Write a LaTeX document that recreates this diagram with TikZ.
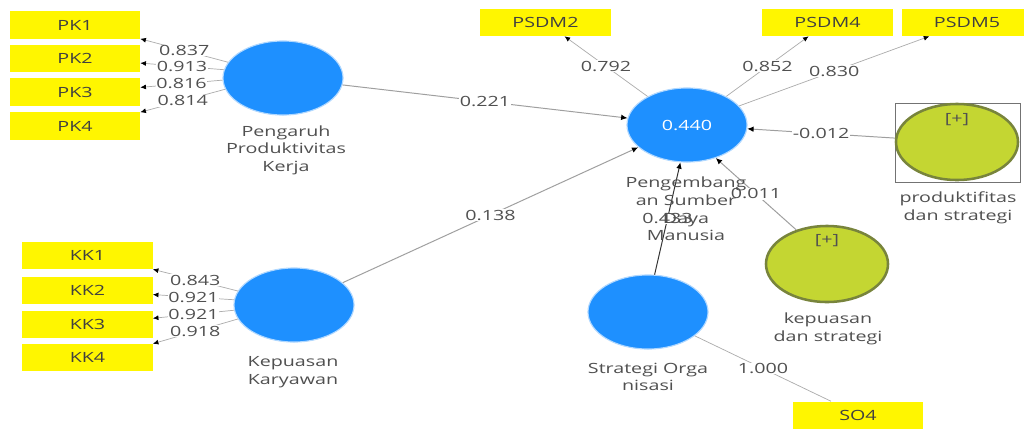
\documentclass[tikz,border=0pt]{standalone}
\usepackage{fontspec}
\setmainfont{Open Sans}[FakeStretch=1.4]
\usetikzlibrary{shapes.geometric,arrows.meta}

\definecolor{plsblue}{RGB}{30,144,255}
\definecolor{plsyellow}{RGB}{255,246,0}
\definecolor{plsgreen}{RGB}{196,214,50}
\definecolor{plsolive}{RGB}{120,132,60}
\definecolor{plstext}{RGB}{80,80,80}

\begin{document}
\begin{tikzpicture}[x=0.025cm,y=-0.025cm,
  font=\fontsize{10}{12.5}\selectfont,
  ind/.style={rectangle,fill=plsyellow,text=black!75,minimum width=3.25cm,minimum height=0.675cm,inner sep=0pt},
  lv/.style={ellipse,fill=plsblue,draw=plsblue!35,line width=0.8pt,minimum width=3cm,minimum height=1.85cm,inner sep=0pt},
  moder/.style={ellipse,fill=plsgreen,draw=plsolive,line width=1.8pt,minimum width=3.05cm,minimum height=1.9cm,inner sep=0pt},
  lvname/.style={text=plstext,align=center},
  coef/.style={fill=white,text=plstext,inner sep=0.5pt},
  load/.style={draw=gray!65,line width=0.5pt,-{Latex[length=4pt,width=3.5pt,color=black]}},
  struct/.style={draw=gray!75,line width=0.7pt,-{Latex[length=4.5pt,width=4pt,color=black]}}]
\path[fill=white] (0,0) rectangle (1024,428);
\useasboundingbox (0,0) rectangle (1024,428);
% indicators
\node[ind] (pk1) at (75,25) {PK1};
\node[ind] (pk2) at (75,58.5) {PK2};
\node[ind] (pk3) at (75,92) {PK3};
\node[ind] (pk4) at (75,126) {PK4};
\node[ind] (kk1) at (87.5,255.5) {KK1};
\node[ind] (kk2) at (87.5,290) {KK2};
\node[ind] (kk3) at (87.5,324) {KK3};
\node[ind] (kk4) at (87.5,357.5) {KK4};
\node[ind] (psdm2) at (545.5,22.5) {PSDM2};
\node[ind] (psdm4) at (827.5,22.5) {PSDM4};
\node[ind] (psdm5) at (967,22.5) {PSDM5};
\node[ind] (so4) at (858,415) {SO4};
% latent variables
\node[lv] (ppk) at (283,78) {};
\node[lv] (kk) at (294,305) {};
\node[lv,text=white] (psdm) at (687,125) {0.440};
\node[lv] (so) at (648,312) {};
\draw[black!55,line width=0.5pt] (895,103) rectangle (1020,182);
\node[moder] (pds) at (957,142) {};
\node[moder] (kds) at (827,264) {};
\node[text=plstext] (pdsplus) at (957,120) {[+]};
\node[text=plstext] (kdsplus) at (827,241) {[+]};
% outer loadings
\draw[load] (ppk.164) -- node[coef] {0.837} (pk1.south east);
\draw[load] (ppk.172) -- node[coef] {0.913} (pk2.-4);
\draw[load] (ppk.182) -- node[coef] {0.816} (pk3.4);
\draw[load] (ppk.191) -- node[coef] {0.814} (pk4.north east);
\draw[load] (kk.166) -- node[coef] {0.843} (kk1.south east);
\draw[load] (kk.175) -- node[coef] {0.921} (kk2.-4);
\draw[load] (kk.185) -- node[coef] {0.921} (kk3.5);
\draw[load] (kk.194) -- node[coef] {0.918} (kk4.north east);
\draw[load] (psdm) -- node[coef] {0.792} (psdm2);
\draw[load] (psdm) -- node[coef] {0.852} (psdm4);
\draw[load] (psdm) -- node[coef] {0.830} (psdm5);
\draw[draw=gray!65,line width=0.5pt] (so.-27) -- node[coef] {1.000} (so4.153);
% inner model
\draw[struct] (ppk) -- node[coef] {0.221} (psdm);
\draw[struct] (kk) -- node[coef] {0.138} (psdm);
\draw[struct] (pds) -- node[coef] {-0.012} (psdm);
\draw[struct] (kds.132) -- node[coef] {0.011} (psdm.-49);
\draw[struct,draw=black!80] (so.80) -- node[coef] {0.433} (psdm.-100);
% names
\node[lvname] (ppkname) at (286,150) {Pengaruh\\Produktivitas\\Kerja};
\node[lvname] (kkname) at (293,372) {Kepuasan\\Karyawan};
\node[lvname] (psdmname) at (686,209) {Pengembang\\an Sumber\\Daya\\Manusia};
\node[lvname] (soname) at (648,377) {Strategi Orga\\nisasi};
\node[lvname] (pdsname) at (958,208) {produktifitas\\dan strategi};
\node[lvname] (kdsname) at (828,329) {kepuasan\\dan strategi};
\end{tikzpicture}
\end{document}
